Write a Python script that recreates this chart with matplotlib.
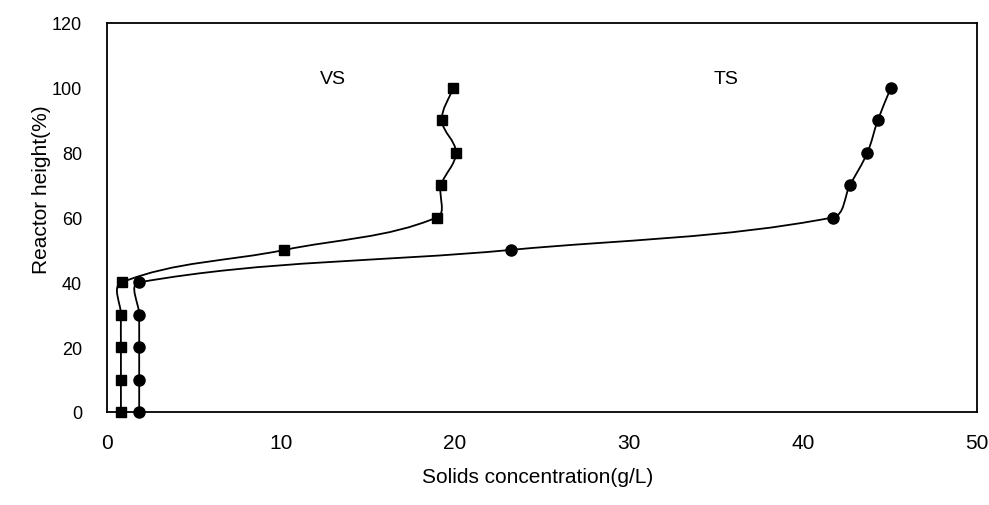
import matplotlib
matplotlib.use("Agg")
import matplotlib.pyplot as plt
from matplotlib.path import Path
from matplotlib.patches import PathPatch
import numpy as np

plt.rcParams['font.family'] = ['Liberation Sans', 'DejaVu Sans']

# Data
height = [0, 10, 20, 30, 40, 50, 60, 70, 80, 90, 100]
vs = [0.8, 0.8, 0.8, 0.8, 0.85, 10.2, 18.95, 19.2, 20.05, 19.25, 19.9]
ts = [1.85, 1.85, 1.85, 1.85, 1.85, 23.2, 41.7, 42.7, 43.7, 44.3, 45.05]
xticks = [0, 10, 20, 30, 40, 50]
yticks = [0, 20, 40, 60, 80, 100, 120]

W, H = 989, 506
fig = plt.figure(figsize=(W / 100, H / 100), dpi=100)
ax = fig.add_axes([107 / W, 1 - 413 / H, 870 / W, 389 / H])
ax.set_xlim(0, 50)
ax.set_ylim(0, 120)

sx = 870 / 50.0
sy = 389 / 120.0


def unit(v):
    n = np.hypot(v[0], v[1])
    return v / n if n > 0 else v


def smooth_path(xs, ys, k=0.35):
    P = np.column_stack([np.asarray(xs) * sx, np.asarray(ys) * sy])
    n = len(P)
    verts = [P[0]]
    codes = [Path.MOVETO]
    for i in range(n - 1):
        p0 = P[i - 1] if i > 0 else P[i]
        p1 = P[i]
        p2 = P[i + 1]
        p3 = P[i + 2] if i + 2 < n else P[i + 1]
        seg = np.hypot(*(p2 - p1))
        c1 = p1 + unit(p2 - p0) * seg * k
        c2 = p2 - unit(p3 - p1) * seg * k
        verts += [c1, c2, p2]
        codes += [Path.CURVE4] * 3
    V = np.array(verts)
    V[:, 0] /= sx
    V[:, 1] /= sy
    return Path(V, codes)


for xs, mk, ms in [(vs, 's', 7.5), (ts, 'o', 8)]:
    ax.add_patch(PathPatch(smooth_path(xs, height), facecolor='none',
                           edgecolor='black', lw=1.3, zorder=2))
    ax.plot(xs, height, linestyle='none', marker=mk, markersize=ms,
            color='black', zorder=3, clip_on=False)

ax.set_xticks(xticks)
ax.set_yticks(yticks)
ax.tick_params(axis='both', length=0)
ax.tick_params(axis='x', labelsize=15, pad=15)
ax.tick_params(axis='y', labelsize=13, pad=18)
for s in ax.spines.values():
    s.set_linewidth(1.3)
    s.set_color('black')

ax.text(13.0, 102.8, 'VS', fontsize=14, ha='center', va='center')
ax.text(35.6, 102.8, 'TS', fontsize=14, ha='center', va='center')

fig.text(538 / W, 1 - 478 / H, 'Solids concentration(g/L)', fontsize=15,
         ha='center', va='center')
fig.text(42 / W, 1 - 190 / H, 'Reactor height(%)', fontsize=15,
         ha='center', va='center', rotation=90)

fig.savefig('out.png', dpi=100, facecolor='white')
